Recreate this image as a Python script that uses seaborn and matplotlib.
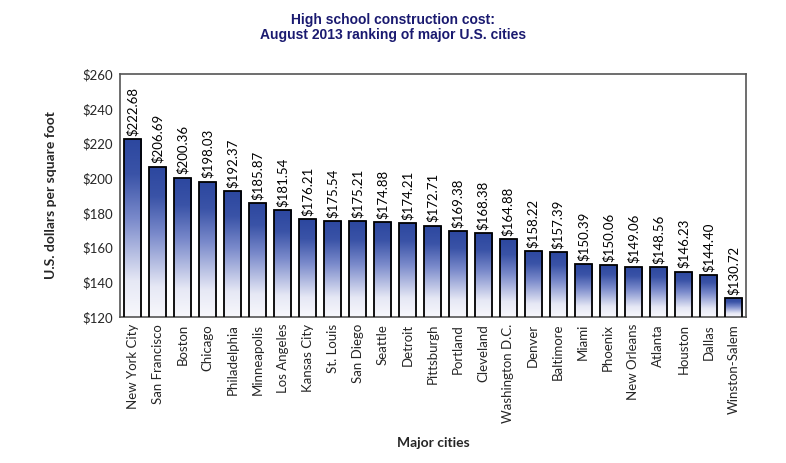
import numpy as np
import pandas as pd
import matplotlib
matplotlib.use("Agg")
import matplotlib.pyplot as plt
import seaborn as sns
from matplotlib.colors import LinearSegmentedColormap

cities = ["New York City", "San Francisco", "Boston", "Chicago", "Philadelphia",
          "Minneapolis", "Los Angeles", "Kansas City", "St. Louis", "San Diego",
          "Seattle", "Detroit", "Pittsburgh", "Portland", "Cleveland",
          "Washington D.C.", "Denver", "Baltimore", "Miami", "Phoenix",
          "New Orleans", "Atlanta", "Houston", "Dallas", "Winston-Salem"]
costs = [222.68, 206.69, 200.36, 198.03, 192.37, 185.87, 181.54, 176.21, 175.54,
         175.21, 174.88, 174.21, 172.71, 169.38, 168.38, 164.88, 158.22, 157.39,
         150.39, 150.06, 149.06, 148.56, 146.23, 144.40, 130.72]
yticks = [120, 140, 160, 180, 200, 220, 240, 260]

df = pd.DataFrame({"city": cities, "cost": costs})

sns.set_style("white")
plt.rcParams["font.family"] = ["Lato", "DejaVu Sans"]

fig = plt.figure(figsize=(7.86, 4.63), dpi=100)
ax = fig.add_axes([0.1527, 0.3153, 0.7963, 0.5247])

sns.barplot(data=df, x="city", y="cost", ax=ax, width=0.68,
            color="white", edgecolor="black", linewidth=1.3, zorder=2)

ax.set_ylim(120, 260)
ax.set_xlim(-0.5, len(cities) - 0.5)

# vertical gradient: dark blue at the top of each bar fading to white at base
cmap = LinearSegmentedColormap.from_list(
    "grad", [(0.0, "#f8f8fc"), (0.2, "#e6e8f5"), (0.55, "#7a8acb"),
             (0.8, "#3a53a7"), (1.0, "#2c479f")])
grad = np.linspace(0, 1, 256).reshape(-1, 1)
for patch in ax.patches:
    x0, y0 = patch.get_x(), patch.get_y()
    w, h = patch.get_width(), patch.get_height()
    im = ax.imshow(grad, cmap=cmap, origin="lower", aspect="auto",
                   extent=[x0, x0 + w, 120, y0 + h], zorder=1.5)
    im.set_clip_path(patch)
    patch.set_facecolor("none")
    patch.set_zorder(3)

for i, v in enumerate(costs):
    ax.text(i, v + 1.8, f"${v:.2f}", rotation=90, ha="center", va="bottom",
            fontsize=9.5, color="black")

ax.set_yticks(yticks)
ax.set_yticklabels([f"${t}" for t in yticks], fontsize=9.5)
ax.set_xticks(range(len(cities)))
ax.set_xticklabels(cities, rotation=90, fontsize=9.5)
ax.tick_params(axis="both", length=0, pad=5)

for s in ax.spines.values():
    s.set_color("#555555")
    s.set_linewidth(1.2)

ax.set_xlabel("Major cities", fontsize=10, fontweight="bold", labelpad=10)
ax.set_ylabel("U.S. dollars per square foot", fontsize=10, fontweight="bold",
              labelpad=18)

fig.text(0.5, 0.972, "High school construction cost:\nAugust 2013 ranking of major U.S. cities",
         ha="center", va="top", fontsize=10, fontweight="bold", color="#1a1a70",
         family=["Liberation Sans", "DejaVu Sans"], linespacing=1.05)

fig.savefig("out.png", dpi=100)
